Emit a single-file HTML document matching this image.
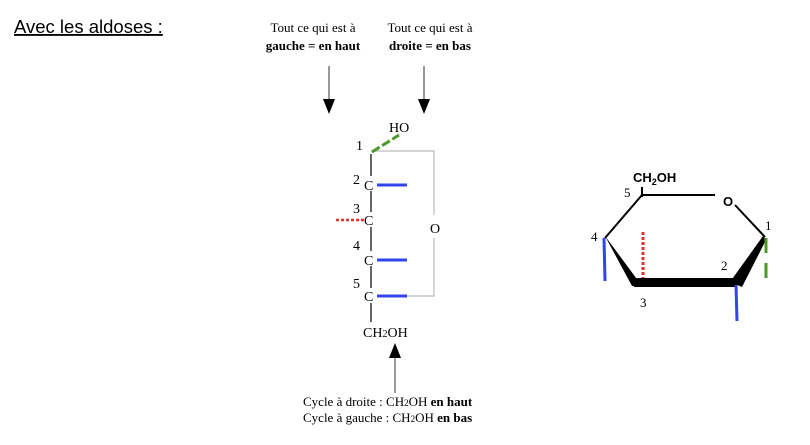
<!DOCTYPE html>
<html><head><meta charset="utf-8"><style>
body{margin:0;background:#fff}
svg{display:block}
</style></head><body>
<svg width="810" height="445" xmlns="http://www.w3.org/2000/svg">
<rect width="810" height="445" fill="#fff"/>
<text x="14" y="33" font-family="Liberation Sans, sans-serif" font-size="18.5" text-decoration="underline">Avec les aldoses :</text>
<g font-family="Liberation Serif, serif" font-size="13" text-anchor="middle">
<text x="313" y="32">Tout ce qui est à</text>
<text x="313" y="50" font-weight="bold">gauche = en haut</text>
<text x="430" y="32">Tout ce qui est à</text>
<text x="430" y="50" font-weight="bold">droite = en bas</text>
</g>
<g stroke="#333" stroke-width="1">
<line x1="329" y1="66" x2="329" y2="102"/>
<line x1="424" y1="66" x2="424" y2="102"/>
<line x1="395" y1="356" x2="395" y2="393"/>
</g>
<polygon points="323,99 335,99 329,114" fill="#000"/>
<polygon points="418,99 430,99 424,114" fill="#000"/>
<polygon points="389,358 401,358 395,343" fill="#000"/>
<!-- Fischer -->
<g stroke="#000" stroke-width="1.2">
<line x1="371" y1="154" x2="371" y2="176"/>
<line x1="371" y1="191" x2="371" y2="212"/>
<line x1="371" y1="227" x2="371" y2="251"/>
<line x1="371" y1="266" x2="371" y2="288"/>
<line x1="371" y1="303" x2="371" y2="322"/>
</g>
<polyline points="371,151 434,151 434,215" fill="none" stroke="#bbb" stroke-width="1.2"/>
<polyline points="434,238 434,296 407,296" fill="none" stroke="#bbb" stroke-width="1.2"/>
<line x1="372" y1="152" x2="399" y2="135" stroke="#4a9a2a" stroke-width="3" stroke-dasharray="9,3"/>
<g stroke="#3344ee" stroke-width="3">
<line x1="377" y1="185" x2="407" y2="185"/>
<line x1="377" y1="260" x2="407" y2="260"/>
<line x1="377" y1="296" x2="407" y2="296"/>
</g>
<line x1="336" y1="220" x2="364" y2="220" stroke="#e03030" stroke-width="2.5" stroke-dasharray="3,2"/>
<g font-family="Liberation Serif, serif" font-size="14">
<text x="389" y="132">HO</text>
<text x="356" y="150">1</text>
<text x="353" y="184">2</text><text x="364" y="190">C</text>
<text x="353" y="213">3</text><text x="364" y="225">C</text>
<text x="353" y="250">4</text><text x="364" y="265">C</text>
<text x="353" y="288">5</text><text x="364" y="301">C</text>
<text x="430" y="233">O</text>
<text x="363" y="337">CH<tspan font-size="10">2</tspan>OH</text>
</g>
<g font-family="Liberation Serif, serif" font-size="13">
<text x="303" y="406">Cycle à droite : CH<tspan font-size="9">2</tspan>OH <tspan font-weight="bold">en haut</tspan></text>
<text x="303" y="422">Cycle à gauche : CH<tspan font-size="9">2</tspan>OH <tspan font-weight="bold">en bas</tspan></text>
</g>
<!-- Haworth -->
<g stroke="#000" stroke-width="2" fill="none">
<line x1="642" y1="195" x2="715" y2="195"/>
<line x1="735" y1="205" x2="765" y2="237"/>
<line x1="642" y1="195" x2="605" y2="238"/>
<line x1="642" y1="187" x2="642" y2="197"/>
</g>
<polygon points="605,236 608,240 642,286 632,286" fill="#000"/>
<rect x="634" y="278" width="103" height="9" fill="#000"/>
<polygon points="730,282 742,287 766,240 763,236" fill="#000"/>
<line x1="604" y1="238" x2="605" y2="281" stroke="#3344ee" stroke-width="3"/>
<line x1="736" y1="285" x2="737" y2="321" stroke="#3344ee" stroke-width="3"/>
<line x1="766" y1="238" x2="766" y2="253" stroke="#4a9a2a" stroke-width="3"/>
<line x1="766" y1="263" x2="766" y2="278" stroke="#4a9a2a" stroke-width="3"/>
<line x1="643" y1="232" x2="643" y2="278" stroke="#e03030" stroke-width="3" stroke-dasharray="3,2"/>
<g font-family="Liberation Sans, sans-serif" font-size="13" font-weight="bold">
<text x="633" y="182">CH<tspan font-size="9" dy="3">2</tspan><tspan dy="-3">OH</tspan></text>
<text x="723" y="206">O</text>
</g>
<g font-family="Liberation Serif, serif" font-size="13">
<text x="765" y="230">1</text>
<text x="721" y="270">2</text>
<text x="640" y="307">3</text>
<text x="591" y="241">4</text>
<text x="624" y="197">5</text>
</g>
</svg>
</body></html>
